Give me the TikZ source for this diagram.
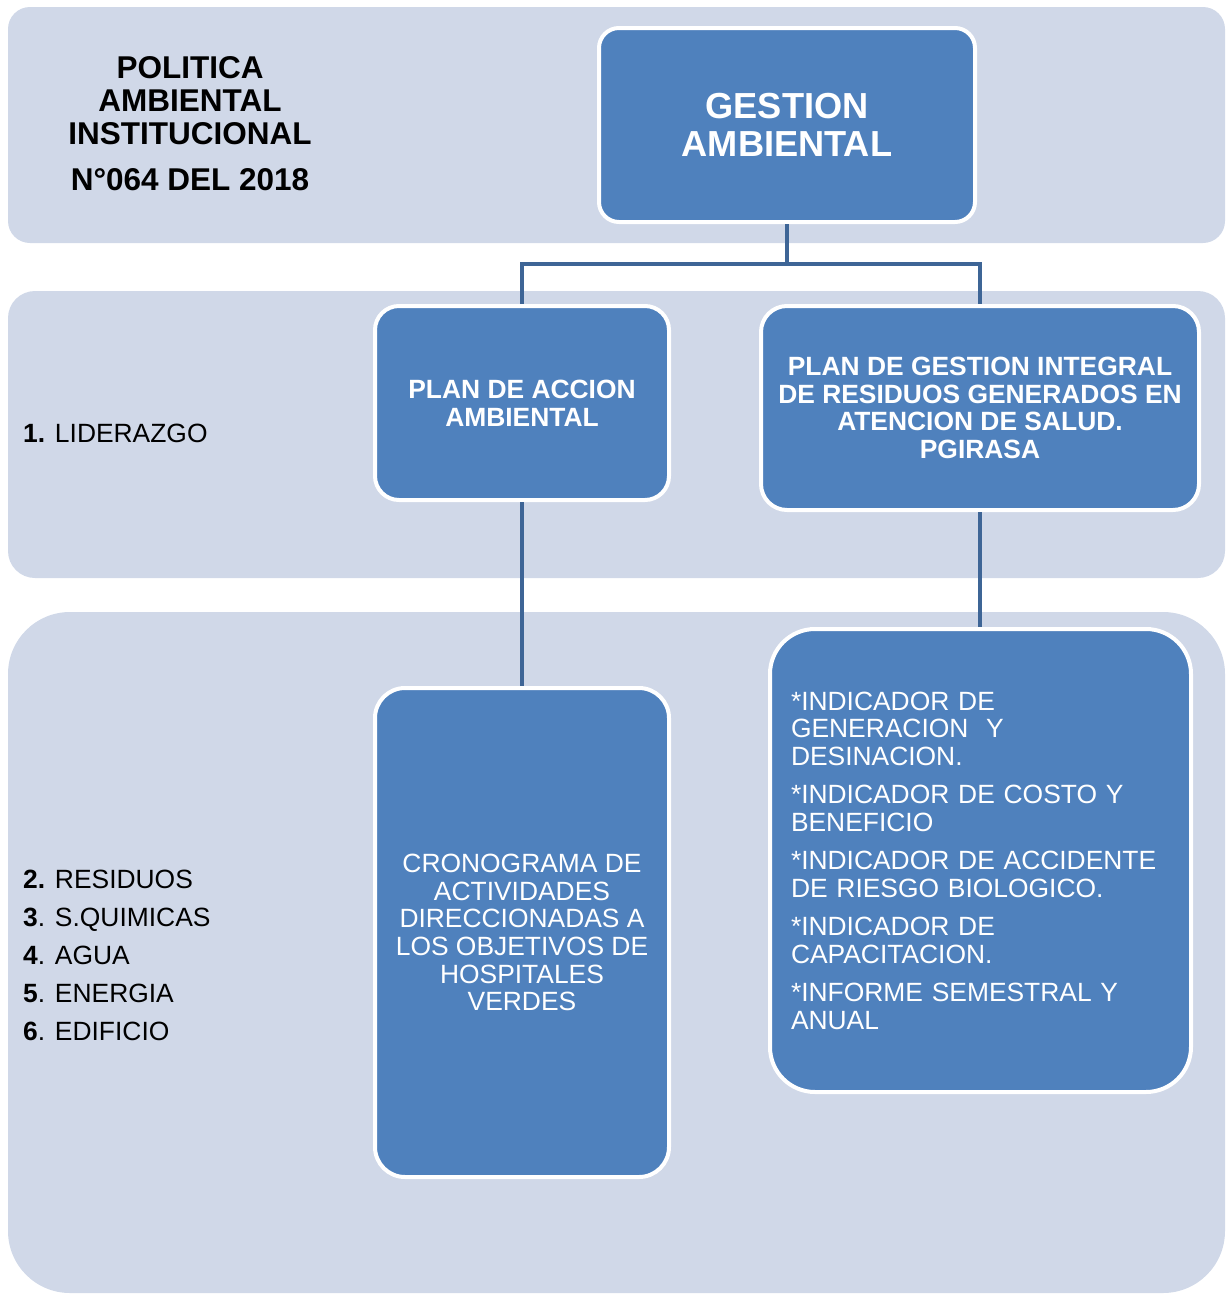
\documentclass[tikz,border=0pt]{standalone}
\usepackage{fontspec}
\setmainfont{Liberation Sans}
\definecolor{bandc}{RGB}{208,216,232}
\definecolor{boxc}{RGB}{79,129,189}
\definecolor{linec}{RGB}{62,101,150}
\tikzset{
  band/.style={fill=bandc, draw=none},
  bluebox/.style={fill=boxc, draw=white, line width=4pt, text=white, inner sep=0pt, align=center},
  conn/.style={draw=linec, line width=4pt},
  plain/.style={inner sep=0pt, text=black},
}
\begin{document}
\begin{tikzpicture}[x=1pt,y=-1pt]
\useasboundingbox (0,0) rectangle (1226,1294);
% bands
\fill[band, rounded corners=22pt] (8,7) rectangle (1225,243);
\fill[band, rounded corners=27pt] (8,291) rectangle (1225,578);
\fill[band, rounded corners=62pt] (8,612) rectangle (1225,1293);

% boxes
\node[bluebox, rounded corners=20pt, minimum width=376pt, minimum height=194pt,
      font=\fontsize{36.2}{38}\selectfont\bfseries] (g) at (787,125) {GESTION\\AMBIENTAL};
\node[bluebox, rounded corners=24pt, minimum width=294pt, minimum height=194pt,
      font=\fontsize{26.4}{28}\selectfont\bfseries] (pa) at (522,403) {PLAN DE ACCION\\AMBIENTAL};
\node[bluebox, rounded corners=26pt, minimum width=438pt, minimum height=204pt,
      font=\fontsize{26.4}{27.5}\selectfont\bfseries] (pg) at (980,408)
      {PLAN DE GESTION INTEGRAL\\DE RESIDUOS GENERADOS EN\\ATENCION DE SALUD.\\PGIRASA};
\node[bluebox, rounded corners=30pt, minimum width=294pt, minimum height=489pt,
      font=\fontsize{26.4}{27.6}\selectfont] (cr) at (522,932.5)
      {CRONOGRAMA DE\\ACTIVIDADES\\DIRECCIONADAS A\\LOS OBJETIVOS DE\\HOSPITALES\\VERDES};
\node[bluebox, rounded corners=45pt, minimum width=421pt, minimum height=463pt,
      text width=379pt, align=left,
      font=\fontsize{26.4}{27.5}\selectfont] (ind) at (980.5,860.5)
      {*INDICADOR DE\\GENERACION\ \ Y\\DESINACION.\\[11pt]
       *INDICADOR DE COSTO Y\\BENEFICIO\\[11pt]
       *INDICADOR DE ACCIDENTE\\DE RIESGO BIOLOGICO.\\[11pt]
       *INDICADOR DE\\CAPACITACION.\\[11pt]
       *INFORME SEMESTRAL Y\\ANUAL};

% connectors
\coordinate (j) at (787,264);
\draw[conn] (g.south) -- (j);
\draw[conn] (j) -| (pa.north);
\draw[conn] (j) -| (pg.north);
\draw[conn] (pa.south) -- (cr.north);
\draw[conn] (pg.south) -- (pg.south |- ind.north);

% left texts
\node[plain, align=center, font=\fontsize{31.5}{33}\selectfont\bfseries] (pol) at (190,124)
  {POLITICA\\AMBIENTAL\\INSTITUCIONAL\\[13pt]N°064 DEL 2018};
\node[plain, anchor=west, font=\fontsize{26.4}{28}\selectfont] (lid) at (23,433)
  {\textbf{1.} LIDERAZGO};
\node[plain, anchor=west, align=left, font=\fontsize{26.4}{38}\selectfont] (lst) at (23,955)
  {\textbf{2.} RESIDUOS\\\textbf{3}. S.QUIMICAS\\\textbf{4}. AGUA\\\textbf{5}. ENERGIA\\\textbf{6}. EDIFICIO};
\end{tikzpicture}
\end{document}
